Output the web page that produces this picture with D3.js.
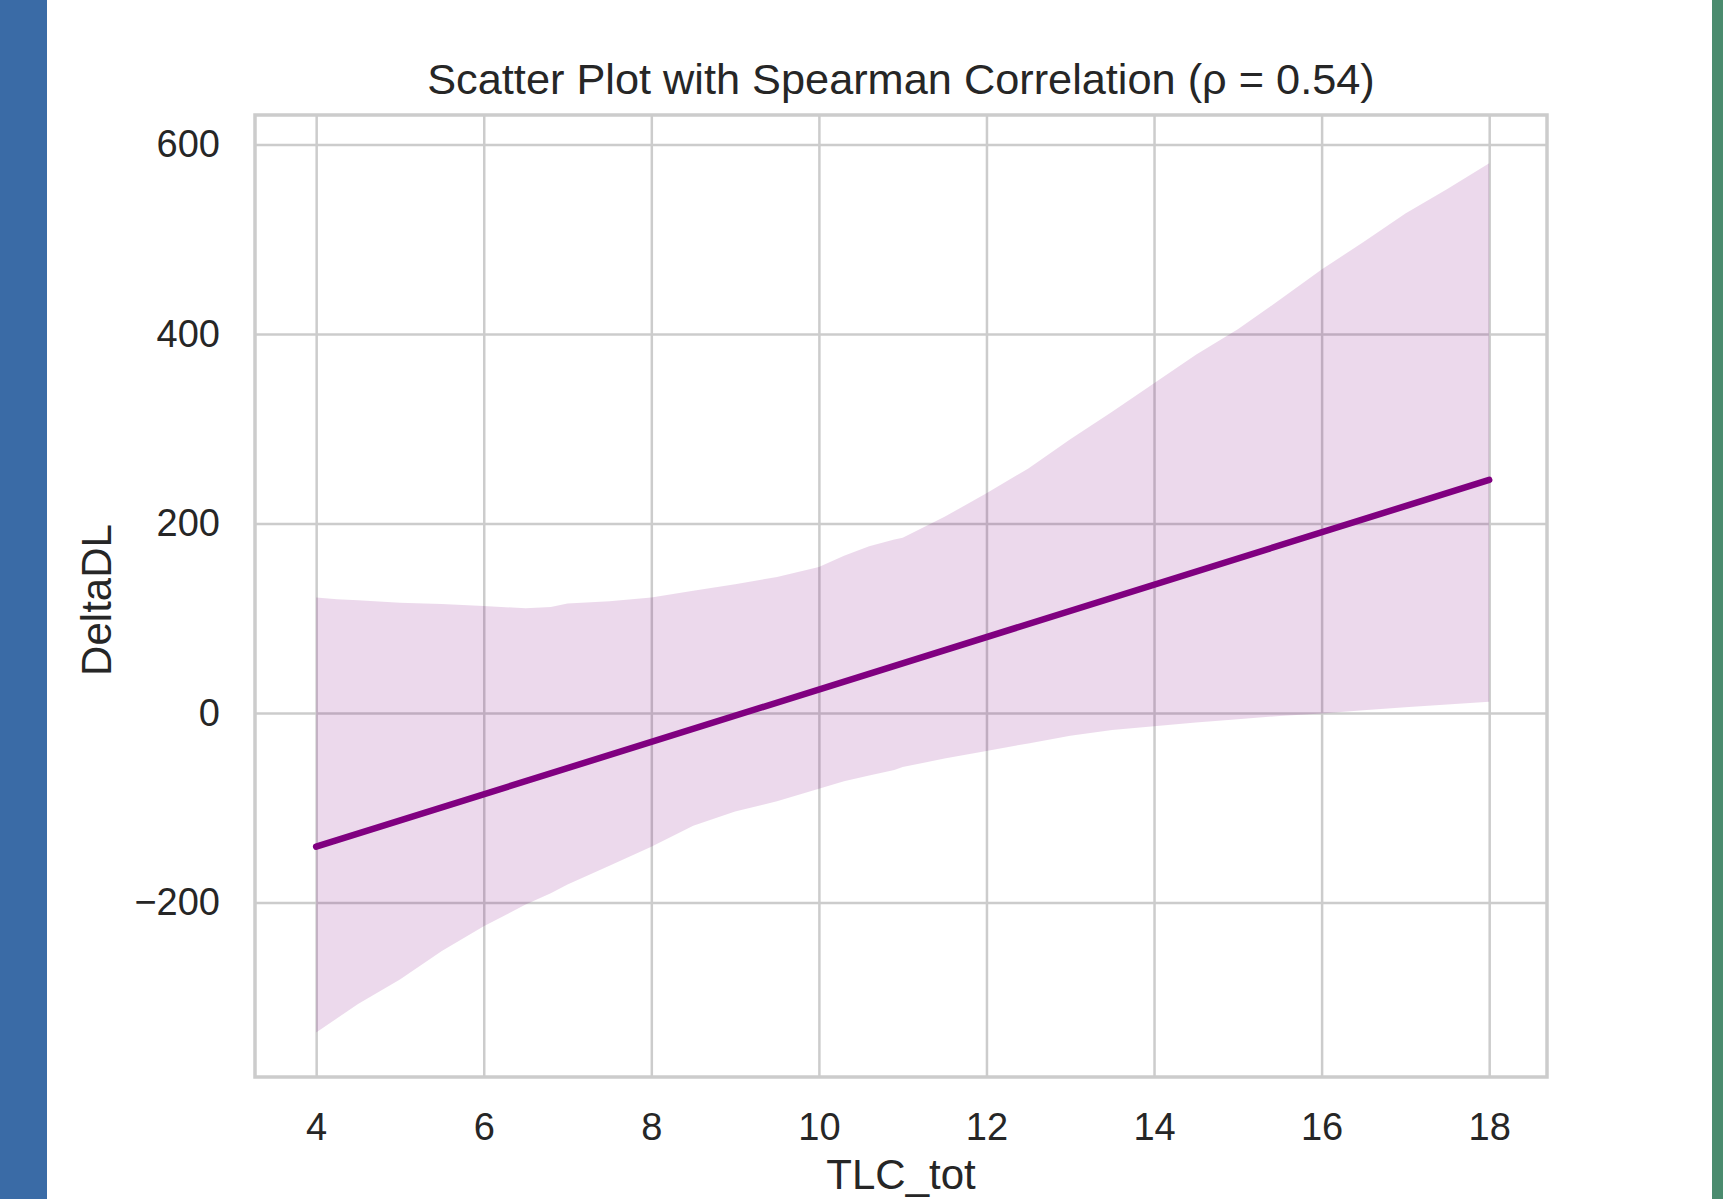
<!DOCTYPE html>
<html>
<head>
<meta charset="utf-8">
<script src="https://cdn.jsdelivr.net/npm/d3@7"></script>
<style>
  body { margin: 0; background: #fff; }
  svg { display: block; }
  text { font-family: "Liberation Sans", Arial, sans-serif; fill: #262626; }
</style>
</head>
<body>
<script>
// values
const bandX     = [4, 4.25, 4.5, 5, 5.5, 6, 6.5, 6.8, 7, 7.5, 8, 8.5, 9, 9.5, 10, 10.3, 10.6, 10.9, 11, 11.5, 12, 12.5, 13, 13.5, 14, 14.5, 15, 15.5, 16, 16.5, 17, 17.5, 18];
const bandUpper = [122, 120, 119, 116.5, 115, 113, 110.5, 112, 115.5, 118, 122, 129, 136, 143.5, 154, 166, 176, 183, 185, 207, 232, 258, 289, 318, 348, 378, 405, 436, 468, 497, 527, 553, 580];
const bandLower = [-337, -322, -307, -281, -251, -225, -202, -190, -181, -161, -141, -119, -104, -93, -80, -72, -66, -60, -57, -48, -40, -32, -24, -18, -14, -10, -6.5, -3, -0.5, 3, 6, 9, 12];
const lineX = [4, 18];
const lineY = [-141, 246];
const xTicks = [4, 6, 8, 10, 12, 14, 16, 18];
const yTicks = [-200, 0, 200, 400, 600];
const titleText = "Scatter Plot with Spearman Correlation (\u03c1 = 0.54)";
const xLabel = "TLC_tot";
const yLabel = "DeltaDL";

const W = 1723, H = 1199;
const plot = { left: 255, top: 115, right: 1547, bottom: 1077 };

const svg = d3.select("body").append("svg")
    .attr("width", W)
    .attr("height", H);

svg.append("rect").attr("width", W).attr("height", H).attr("fill", "#fff");

// side strips
svg.append("rect").attr("x", 0).attr("y", 0).attr("width", 47).attr("height", H).attr("fill", "#3a6ba6");
svg.append("rect").attr("x", 1712).attr("y", 0).attr("width", 11).attr("height", H).attr("fill", "#4a8b6e");

const x = d3.scaleLinear().domain([3.27, 18.69]).range([plot.left, plot.right]);
const y = d3.scaleLinear().domain([-384, 631]).range([plot.bottom, plot.top]);

const ph = plot.bottom - plot.top;
const pw = plot.right - plot.left;

// grid
const gx = svg.append("g")
    .attr("transform", `translate(0,${plot.bottom})`)
    .call(d3.axisBottom(x).tickValues(xTicks).tickSize(-ph).tickFormat(""));
const gy = svg.append("g")
    .attr("transform", `translate(${plot.left},0)`)
    .call(d3.axisLeft(y).tickValues(yTicks).tickSize(-pw).tickFormat(""));
[gx, gy].forEach(g => {
    g.select(".domain").remove();
    g.selectAll(".tick line").attr("stroke", "#cccccc").attr("stroke-width", 2.5);
});

// confidence band
const area = d3.area()
    .x((d, i) => x(bandX[i]))
    .y0((d, i) => y(bandLower[i]))
    .y1((d, i) => y(bandUpper[i]));
svg.append("path")
    .datum(bandX)
    .attr("d", area)
    .attr("fill", "purple")
    .attr("fill-opacity", 0.15);

// regression line
const line = d3.line()
    .x((d, i) => x(lineX[i]))
    .y((d, i) => y(lineY[i]));
svg.append("path")
    .datum(lineX)
    .attr("d", line)
    .attr("fill", "none")
    .attr("stroke", "#800080")
    .attr("stroke-width", 6.5)
    .attr("stroke-linecap", "round");

// frame
svg.append("rect")
    .attr("x", plot.left).attr("y", plot.top)
    .attr("width", pw).attr("height", ph)
    .attr("fill", "none")
    .attr("stroke", "#cccccc")
    .attr("stroke-width", 3.5);

// tick labels
const ax = svg.append("g")
    .attr("transform", `translate(0,${plot.bottom})`)
    .call(d3.axisBottom(x).tickValues(xTicks).tickSize(0).tickPadding(36));
const ay = svg.append("g")
    .attr("transform", `translate(${plot.left},0)`)
    .call(d3.axisLeft(y).tickValues(yTicks).tickSize(0).tickPadding(35));
[ax, ay].forEach(g => {
    g.select(".domain").remove();
    g.selectAll("text")
        .attr("font-family", "'Liberation Sans', Arial, sans-serif")
        .attr("font-size", 38)
        .attr("fill", "#262626");
});

// title and axis labels
svg.append("text")
    .attr("x", (plot.left + plot.right) / 2)
    .attr("y", 94)
    .attr("text-anchor", "middle")
    .attr("font-size", 43.3)
    .text(titleText);

svg.append("text")
    .attr("x", (plot.left + plot.right) / 2)
    .attr("y", 1189)
    .attr("text-anchor", "middle")
    .attr("font-size", 42)
    .text(xLabel);

svg.append("text")
    .attr("transform", `translate(111,${(plot.top + plot.bottom) / 2 + 4}) rotate(-90)`)
    .attr("text-anchor", "middle")
    .attr("font-size", 42)
    .text(yLabel);
</script>
</body>
</html>
